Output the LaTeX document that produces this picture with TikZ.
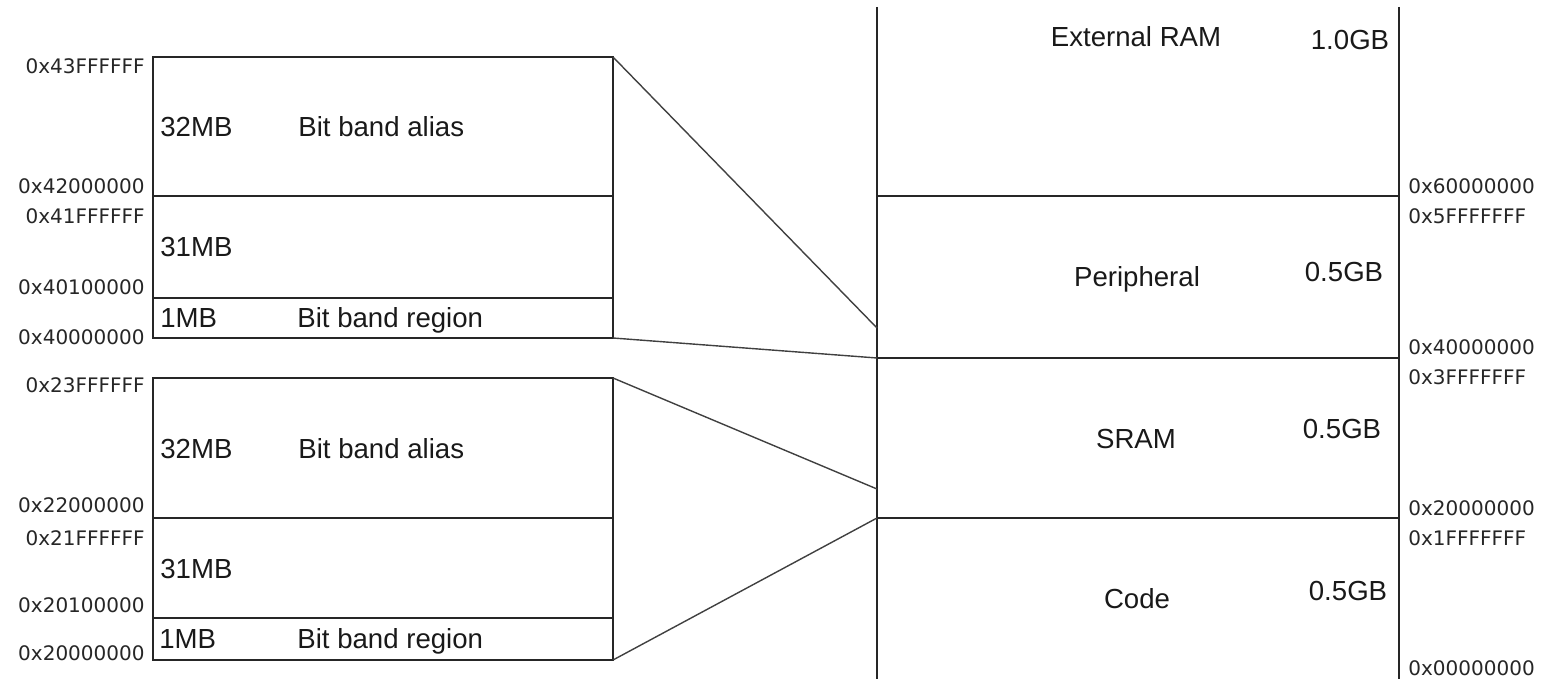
\documentclass[tikz,border=0pt]{standalone}
\usepackage{fontspec}
\setmainfont{Liberation Sans}
\newfontfamily\hexfont{DejaVu Sans}
\begin{document}
\begin{tikzpicture}[x=0.5pt,y=-0.5pt,
  wall/.style={line width=1pt, draw=black!85},
  link/.style={line width=0.7pt, draw=black!75},
  lbl/.style={font=\fontsize{13.8}{16}\selectfont, text=black!90, inner sep=0pt},
  addr/.style={font=\hexfont\fontsize{10}{12}\selectfont, text=black!85, inner sep=0pt},
  addrL/.style={addr, anchor=base east},
  addrR/.style={addr, anchor=base west},
]
\useasboundingbox (0,0) rectangle (1553,679);

% ---- upper bit-band block (0x40000000 region) ----
\coordinate (ua-nw) at (153,57);
\coordinate (ua-ne) at (613,57);
\coordinate (ua-se) at (613,338);
\draw[wall] (153,57) rectangle (613,338);
\draw[wall] (153,196) -- (613,196);
\draw[wall] (153,298) -- (613,298);

\node[lbl, anchor=base west] (u32) at (160,137) {32MB};
\node[lbl, anchor=base west] (ualias) at (298,137) {Bit band alias};
\node[lbl, anchor=base west] (u31) at (160,257) {31MB};
\node[lbl, anchor=base west] (u1) at (160,328) {1MB};
\node[lbl, anchor=base west] (uregion) at (297,328) {Bit band region};

\node[addrL] (a43) at (145,74) {0x43FFFFFF};
\node[addrL] (a42) at (145,194) {0x42000000};
\node[addrL] (a41) at (145,224) {0x41FFFFFF};
\node[addrL] (a401) at (145,294) {0x40100000};
\node[addrL] (a40) at (145,344) {0x40000000};

% ---- lower bit-band block (0x20000000 region) ----
\coordinate (la-ne) at (613,378);
\coordinate (la-se) at (613,660);
\draw[wall] (153,378) rectangle (613,660);
\draw[wall] (153,518) -- (613,518);
\draw[wall] (153,618) -- (613,618);

\node[lbl, anchor=base west] (l32) at (160,458) {32MB};
\node[lbl, anchor=base west] (lalias) at (298,458) {Bit band alias};
\node[lbl, anchor=base west] (l31) at (160,578) {31MB};
\node[lbl, anchor=base west] (l1) at (159,648) {1MB};
\node[lbl, anchor=base west] (lregion) at (297,648) {Bit band region};

\node[addrL] (a23) at (145,392) {0x23FFFFFF};
\node[addrL] (a22) at (145,512) {0x22000000};
\node[addrL] (a21) at (145,545) {0x21FFFFFF};
\node[addrL] (a201) at (145,612) {0x20100000};
\node[addrL] (a20) at (145,660) {0x20000000};

% ---- full memory map column ----
\draw[wall] (877,7) -- (877,679);
\draw[wall] (1399,7) -- (1399,679);
\draw[wall] (877,196) -- (1399,196);
\draw[wall] (877,358) -- (1399,358);
\draw[wall] (877,518) -- (1399,518);

\coordinate (per-alias) at (877,328);
\coordinate (per-base) at (877,358);
\coordinate (sram-alias) at (877,489);
\coordinate (sram-base) at (877,518);

\node[lbl, anchor=base] (ext) at (1136,47) {External RAM};
\node[lbl, anchor=base] (extsz) at (1350,50) {1.0GB};
\node[lbl, anchor=base] (per) at (1137,287) {Peripheral};
\node[lbl, anchor=base] (persz) at (1344,282) {0.5GB};
\node[lbl, anchor=base] (sram) at (1136,448) {SRAM};
\node[lbl, anchor=base] (sramsz) at (1342,438) {0.5GB};
\node[lbl, anchor=base] (code) at (1137,608) {Code};
\node[lbl, anchor=base] (codesz) at (1348,600) {0.5GB};

\node[addrR] (r60) at (1408,194) {0x60000000};
\node[addrR] (r5f) at (1408,224) {0x5FFFFFFF};
\node[addrR] (r40) at (1408,354) {0x40000000};
\node[addrR] (r3f) at (1408,385) {0x3FFFFFFF};
\node[addrR] (r20) at (1408,515) {0x20000000};
\node[addrR] (r1f) at (1408,545) {0x1FFFFFFF};
\node[addrR] (r00) at (1408,675) {0x00000000};

% ---- expansion lines from the detail blocks to the map ----
\draw[link] (ua-ne) -- (per-alias);
\draw[link] (ua-se) -- (per-base);
\draw[link] (la-ne) -- (sram-alias);
\draw[link] (la-se) -- (sram-base);
\end{tikzpicture}
\end{document}
